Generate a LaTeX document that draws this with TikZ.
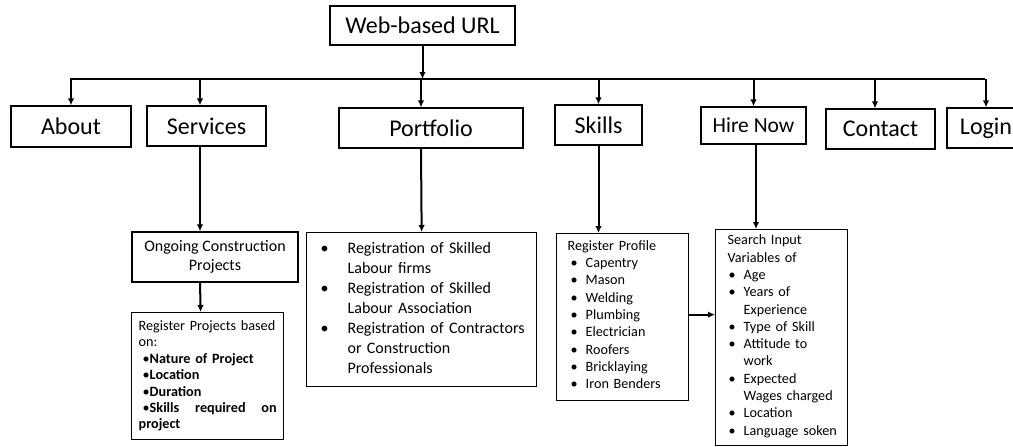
\documentclass[tikz,border=0pt]{standalone}
\usepackage{fontspec}
\setmainfont{Carlito}
\usetikzlibrary{arrows.meta}

\begin{document}
\begin{tikzpicture}[x=1pt, y=-1pt,
  box/.style = {draw = black, line width = 1.3pt, inner sep = 0pt},
  head/.style = {box, font = \fontsize{24}{28}\selectfont},
  listbox/.style = {box, align = left, anchor = north west},
  arr/.style = {line width = 2pt, -{Latex[length=7pt, width=6.5pt]}}]
    \useasboundingbox (0,0) rectangle (1013,447);
    % top row
    \node[head, minimum width = 185pt, minimum height = 39pt] (url) at (422.5,25.5) {Web-based URL};
    \node[head, minimum width = 120pt, minimum height = 41pt] (about) at (71,126.5) {About};
    \node[head, minimum width = 119pt, minimum height = 40pt] (services) at (206.5,126) {Services};
    \node[head, minimum width = 184pt, minimum height = 40pt] (portfolio) at (431,128) {Portfolio};
    \node[head, minimum width = 87pt, minimum height = 40pt] (skills) at (598.5,125) {Skills};
    \node[head, font = \fontsize{21.5}{26}\selectfont, minimum width = 105pt, minimum height = 37pt] (hire) at (753.5,125.5) {Hire Now};
    \node[head, minimum width = 109pt, minimum height = 40pt] (contact) at (880.5,129) {Contact};
    \node[head, minimum width = 78pt, minimum height = 40pt] (login) at (986,128) {Login};
    \coordinate (busL) at (70,79);
    \coordinate (busR) at (985,79);
    % lower boxes
    \node[box, font = \fontsize{16}{19.5}\selectfont, align = center, minimum width = 166pt, minimum height = 50pt] (ongoing) at (215,257) {Ongoing Construction\\Projects};
    \node[listbox, font = \fontsize{14.2}{16.4}\selectfont, text width = 138pt, inner xsep = 7pt, inner ysep = 8pt, minimum height = 126pt] (projects) at (131,312) {Register Projects based\\on:\\
      \hspace*{4pt}\textbullet\textbf{Nature of Project}\\
      \hspace*{4pt}\textbullet\textbf{Location}\\
      \hspace*{4pt}\textbullet\textbf{Duration}\\
      \hspace*{4pt}\textbullet\textbf{Skills}\hfill\textbf{required}\hfill\textbf{on}\\
      \textbf{project}};
    \node[listbox, font = \fontsize{16}{20}\selectfont, minimum width = 230pt, minimum height = 151pt, inner xsep = 14pt, inner ysep = 7pt, text width = 202pt] (plist) at (306,232) {%
      \begin{tabular}{@{}l@{\hspace{19pt}}l@{}}
        \textbullet & Registration of Skilled\\
                    & Labour firms\\
        \textbullet & Registration of Skilled\\
                    & Labour Association\\
        \textbullet & Registration of Contractors\\
                    & or Construction\\
                    & Professionals
      \end{tabular}};
    \node[listbox, font = \fontsize{14.2}{17.3}\selectfont, minimum width = 132pt, minimum height = 167pt, inner xsep = 11pt, inner ysep = 5pt, text width = 110pt] (slist) at (556,233) {%
      Register Profile\\
      \begin{tabular}[t]{@{\hspace{3pt}}l@{\hspace{8pt}}l@{}}
        \textbullet & Capentry\\
        \textbullet & Mason\\
        \textbullet & Welding\\
        \textbullet & Plumbing\\
        \textbullet & Electrician\\
        \textbullet & Roofers\\
        \textbullet & Bricklaying\\
        \textbullet & Iron Benders
      \end{tabular}};
    \node[listbox, font = \fontsize{14.2}{17.3}\selectfont, minimum width = 132pt, minimum height = 216pt, inner xsep = 12pt, inner ysep = 4pt, text width = 108pt] (hlist) at (715,229) {%
      Search Input\\
      Variables of\\
      \begin{tabular}[t]{@{\hspace{1pt}}l@{\hspace{8pt}}l@{}}
        \textbullet & Age\\
        \textbullet & Years of\\
                    & Experience\\
        \textbullet & Type of Skill\\
        \textbullet & Attitude to\\
                    & work\\
        \textbullet & Expected\\
                    & Wages charged\\
        \textbullet & Location\\
        \textbullet & Language soken
      \end{tabular}};
    % connectors
    \draw[line width = 2pt] (busL) -- (busR);
    \draw[arr] (url.south) -- (url.south |- busL);
    \coordinate (pf) at ([xshift=-10pt]portfolio.north);
    \coordinate (sv) at ([xshift=-6.5pt]services.north);
    \coordinate (ct) at ([xshift=-5.5pt]contact.north);
    \foreach \n in {about.north, sv, pf, skills.north, hire.north, ct, login.north}
      \draw[arr] (\n |- busL) -- (\n);
    \draw[arr] ([xshift=-6.5pt]services.south) -- ([xshift=-15pt]ongoing.north);
    \draw[arr] ([xshift=-15pt]ongoing.south) -- ([xshift=-7pt]projects.north);
    \draw[arr] ([xshift=-10pt]portfolio.south) -- (plist.north);
    \draw[arr] (skills.south) -- (skills.south |- slist.north);
    \draw[arr] ([xshift=2.5pt]hire.south) -- ([xshift=2.5pt]hire.south |- hlist.north);
    \draw[arr] ([yshift=2.5pt]slist.east) -- ([yshift=2.5pt]slist.east -| hlist.west);
\end{tikzpicture}
\end{document}
